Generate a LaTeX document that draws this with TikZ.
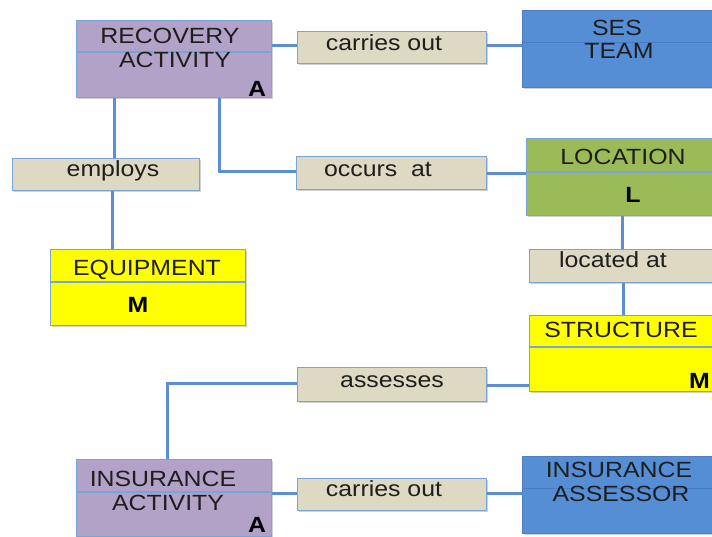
\documentclass[tikz,border=0pt]{standalone}
\usepackage{fontspec}
\setmainfont{Liberation Sans}[FakeStretch=1.13]
\usetikzlibrary{shadows}

\definecolor{linkblue}{HTML}{5B8ED3}
\definecolor{edgeblue}{HTML}{7AA3D8}
\definecolor{splitblue}{HTML}{4A7CC0}
\definecolor{actfill}{HTML}{B3A2C7}
\definecolor{relfill}{HTML}{DDD9C3}
\definecolor{rolefill}{HTML}{558ED5}
\definecolor{locfill}{HTML}{9BBB59}
\definecolor{objfill}{HTML}{FFFF00}
\definecolor{ink}{HTML}{1E1E1E}

\tikzset{
  box/.style={draw=edgeblue, line width=1.4pt, inner sep=0pt, anchor=north west,
    drop shadow={shadow xshift=1.5pt, shadow yshift=-1.5pt, opacity=0.3, fill=black!60}},
  activity/.style={box, fill=actfill, minimum width=195pt, minimum height=77pt},
  relation/.style={box, fill=relfill, minimum width=189pt, minimum height=32pt},
  role/.style={box, fill=rolefill, draw=rolefill!90!black, minimum width=240pt, minimum height=77pt},
  place/.style={box, fill=locfill, minimum width=240pt, minimum height=77pt},
  thing/.style={box, fill=objfill, minimum width=195pt, minimum height=76pt},
  link/.style={draw=linkblue, line width=3pt},
  split/.style={draw=edgeblue, line width=1.3pt},
  rolesplit/.style={draw=splitblue, line width=0.8pt},
  txt/.style={anchor=base, inner sep=0pt, text=ink, font=\fontsize{22}{24}\selectfont},
  tag/.style={anchor=base, inner sep=0pt, text=black, font=\fontsize{22}{24}\selectfont\bfseries},
}

\begin{document}
\begin{tikzpicture}[x=1pt, y=-1pt]
\useasboundingbox (0,0) rectangle (712,536);
\clip (0,0) rectangle (712,536);

% ---- boxes ----
\node[activity] (rec) at (76,20) {};
\node[relation] (carry1) at (297,31) {};
\node[role] (ses) at (522,10) {};
\node[relation, minimum width=187pt] (employs) at (12,158) {};
\node[thing] (equip) at (50,249) {};
\node[relation, minimum width=190pt, minimum height=33pt] (occurs) at (296,156) {};
\node[place] (loc) at (526,138) {};
\node[relation, minimum width=240pt, minimum height=33pt] (locat) at (529,249) {};
\node[thing, minimum width=240pt] (struct) at (529,315) {};
\node[relation, minimum height=34pt] (assess) at (297,367) {};
\node[activity] (insact) at (76,459) {};
\node[relation] (carry2) at (297,478) {};
\node[role] (assessor) at (522,456) {};

% ---- compartment dividers ----
\draw[split] ([yshift=-32pt]rec.north west) -- ([yshift=-32pt]rec.north east);
\draw[rolesplit] ([yshift=-32pt]ses.north west) -- ([yshift=-32pt]ses.north east);
\draw[split] ([yshift=-33pt]equip.north west) -- ([yshift=-33pt]equip.north east);
\draw[split] ([yshift=-34pt]loc.north west) -- ([yshift=-34pt]loc.north east);
\draw[split] ([yshift=-32pt]struct.north west) -- ([yshift=-32pt]struct.north east);
\draw[split] ([yshift=-33pt]insact.north west) -- ([yshift=-33pt]insact.north east);
\draw[rolesplit] ([yshift=-32pt]assessor.north west) -- ([yshift=-32pt]assessor.north east);

% ---- connectors ----
\draw[link] ([yshift=2pt]rec.east |- carry1.west) -- ([yshift=2pt]carry1.west);
\draw[link] ([yshift=2pt]carry1.east) -- ([yshift=2pt]carry1.east -| ses.west);
\draw[link] ([xshift=38pt]rec.south west) -- ([xshift=38pt]rec.south west |- employs.north);
\draw[link] ([xshift=36pt]rec.south west |- employs.south) -- ([xshift=36pt]rec.south west |- equip.north);
\draw[link] ([xshift=143pt]rec.south west) |- ([yshift=2pt]occurs.west);
\draw[link] (occurs.east) -- (occurs.east -| loc.west);
\draw[link] ([xshift=96pt]loc.south west) -- ([xshift=96pt]loc.south west |- locat.north);
\draw[link] ([xshift=94pt]locat.south west) -- ([xshift=94pt]locat.south west |- struct.north);
\draw[link] ([yshift=-1pt]assess.east) -- ([yshift=-1pt]assess.east -| struct.west);
\draw[link] ([yshift=1pt]assess.west) -| ([xshift=91pt]insact.north west);
\draw[link] ([yshift=1pt]insact.east |- carry2.west) -- ([yshift=1pt]carry2.west);
\draw[link] ([yshift=1pt]carry2.east) -- ([yshift=1pt]carry2.east -| assessor.west);

% ---- labels ----
\node[txt] (recA) at (170,43) {RECOVERY};
\node[txt] (recB) at (175,67) {ACTIVITY};
\node[tag] (recT) at (257,96) {A};
\node[txt] (c1) at (384,50) {carries out};
\node[txt] (sesA) at (617,35) {SES};
\node[txt] (sesB) at (619,58) {TEAM};
\node[txt] (emp) at (113,176) {employs};
\node[txt] (eqA) at (147,275) {EQUIPMENT};
\node[tag] (eqT) at (138,312) {M};
\node[txt] (occ) at (378,176) {occurs\ \ at};
\node[txt] (locA) at (623,164) {LOCATION};
\node[tag] (locT) at (633,202) {L};
\node[txt] (lat) at (613,267) {located at};
\node[txt] (stA) at (621,337) {STRUCTURE};
\node[tag, anchor=base west] (stT) at (689,388) {M};
\node[txt] (ass) at (392,387) {assesses};
\node[txt] (iaA) at (163,486) {INSURANCE};
\node[txt] (iaB) at (168,510) {ACTIVITY};
\node[tag] (iaT) at (257,532) {A};
\node[txt] (c2) at (384,496) {carries out};
\node[txt] (asA) at (619,477) {INSURANCE};
\node[txt] (asB) at (621,501) {ASSESSOR};
\end{tikzpicture}
\end{document}
